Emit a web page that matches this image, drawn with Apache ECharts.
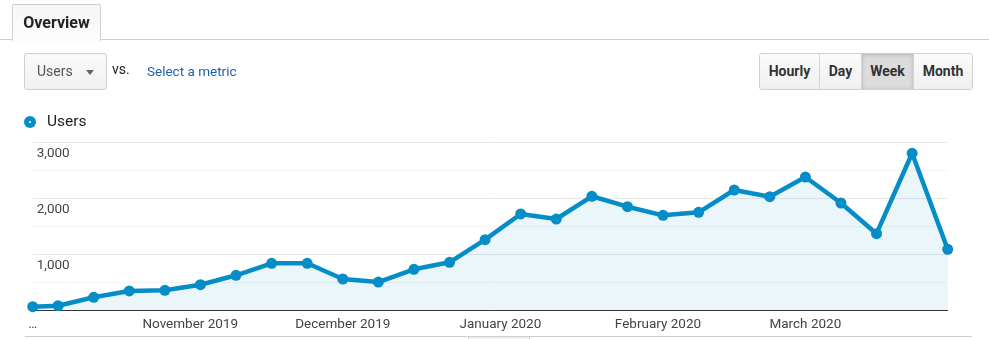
<!DOCTYPE html>
<html>
<head>
<meta charset="utf-8">
<script src="https://cdn.jsdelivr.net/npm/echarts@6/dist/echarts.min.js"></script>
<style>
  html, body { margin: 0; padding: 0; background: #fff; }
  body { width: 989px; height: 339px; position: relative; overflow: hidden; font-family: Roboto, Arial, sans-serif; }
  #chart { position: absolute; left: 0; top: 0; width: 989px; height: 339px; }
  .rule { position: absolute; left: 0; top: 39px; width: 989px; height: 1px; background: #cfcfcf; }
  .tab { position: absolute; left: 12px; top: 4px; width: 87px; height: 35px; border: 1px solid #cfcfcf; border-bottom: none;
         border-radius: 2px 2px 0 0; background: linear-gradient(#f6f6f6, #fcfcfc); z-index: 2;
         font-weight: bold; font-size: 16px; color: #222; line-height: 35px; text-align: center; padding-bottom: 1px; }
  .tab::after { content: ''; position: absolute; left: 0; right: 0; bottom: -1px; height: 1px; background: #fcfcfc; }
  .dropdown { position: absolute; left: 24px; top: 53px; width: 81px; height: 35px; border: 1px solid #cfcfcf; border-radius: 3px;
              background: linear-gradient(#fafafa, #f1f1f1); font-size: 14px; color: #555; line-height: 35px; }
  .dropdown span { position: absolute; left: 12px; }
  .dropdown i { position: absolute; left: 61px; top: 16px; width: 0; height: 0; border-left: 4px solid transparent;
                border-right: 4px solid transparent; border-top: 5px solid #666; }
  .vs { position: absolute; left: 112px; top: 61px; font-size: 14px; color: #222; }
  .metric { position: absolute; left: 147px; top: 63px; font-size: 13.5px; color: #1b62b0; }
  .btns { position: absolute; left: 759px; top: 53px; height: 35px; border: 1px solid #cfcfcf; border-radius: 3px; display: flex; overflow: hidden; }
  .btns div { height: 35px; line-height: 35px; text-align: center; font-weight: bold; font-size: 14px; color: #333;
              background: linear-gradient(#fbfbfb, #f0f0f0); border-left: 1px solid #d4d4d4; }
  .btns div:first-child { border-left: none; }
  .btns div.on { background: #dcdcdc; box-shadow: inset 0 1px 4px rgba(0,0,0,0.18); }
  .foot { position: absolute; left: 25px; top: 336px; width: 947px; height: 1px; background: #cfcfcf; }
  .foottab { position: absolute; left: 468px; top: 336px; width: 60px; height: 5px; border: 1px solid #cfcfcf; background: #f1f1f1; }
</style>
</head>
<body>
<div id="chart"></div>
<div class="rule"></div>
<div class="tab">Overview</div>
<div class="dropdown"><span>Users</span><i></i></div>
<div class="vs">vs.</div>
<div class="metric">Select a metric</div>
<div class="btns">
  <div style="width:59px">Hourly</div>
  <div style="width:41px">Day</div>
  <div class="on" style="width:51px">Week</div>
  <div style="width:58px">Month</div>
</div>
<div class="foot"></div>
<div class="foottab"></div>
<script>
// Weekly users, first point is the partial week starting Oct 1
const weekStarts = ['2019-10-01','2019-10-06','2019-10-13','2019-10-20','2019-10-27','2019-11-03','2019-11-10',
  '2019-11-17','2019-11-24','2019-12-01','2019-12-08','2019-12-15','2019-12-22','2019-12-29','2020-01-05',
  '2020-01-12','2020-01-19','2020-01-26','2020-02-02','2020-02-09','2020-02-16','2020-02-23','2020-03-01',
  '2020-03-08','2020-03-15','2020-03-22','2020-03-29'];
const users = [65, 82, 232, 345, 357, 457, 625, 839, 839, 559, 505, 732, 857, 1261, 1720, 1630, 2036, 1850,
  1696, 1750, 2148, 2029, 2380, 1916, 1368, 2804, 1089];

// x-axis labels
const tickDates = ['2019-10-01','2019-11-01','2019-12-01','2020-01-01','2020-02-01','2020-03-01'];
const tickLabels = ['…','November 2019','December 2019','January 2020','February 2020','March 2020'];

// day offsets from the first date drive the x scale
const DAY = 86400000;
const ts = s => Date.UTC(+s.slice(0, 4), +s.slice(5, 7) - 1, +s.slice(8, 10));
const t0 = ts(weekStarts[0]);
const dayOf = s => Math.round((ts(s) - t0) / DAY);
const tickDays = tickDates.map(dayOf);
const labelByDay = {};
tickDays.forEach((d, i) => { labelByDay[d] = tickLabels[i]; });

const blue = '#058dc7';
const font = 'Roboto, Arial, sans-serif';

const chart = echarts.init(document.getElementById('chart'), null, { renderer: 'canvas' });
chart.setOption({
  animation: false,
  backgroundColor: '#fff',
  legend: {
    left: 24, top: 114, padding: 0,
    icon: 'circle', itemWidth: 12, itemHeight: 12,
    textStyle: { fontFamily: font, fontSize: 15.5, color: '#222', lineHeight: 16, padding: [0, 0, 0, 6] },
    selectedMode: false
  },
  graphic: [{ type: 'circle', left: 29, top: 121, shape: { r: 1 }, style: { fill: '#fff' }, z: 100 }],
  grid: { left: 32.7, right: 41.3, top: 142.3, bottom: 28.7 },
  xAxis: {
    type: 'value',
    min: 0,
    max: dayOf(weekStarts[weekStarts.length - 1]),
    axisLine: { lineStyle: { color: '#333', width: 1 } },
    axisTick: { show: false },
    splitLine: { show: false },
    axisLabel: {
      customValues: tickDays,
      formatter: v => labelByDay[v] || '',
      fontFamily: font, fontSize: 13.5, color: '#444', lineHeight: 14, margin: 7
    }
  },
  yAxis: {
    type: 'value',
    min: 0, max: 3000, interval: 1000,
    axisLine: { show: false },
    axisTick: { show: false },
    splitLine: { lineStyle: { color: '#e8e8e8', width: 1 } },
    minorTick: { show: false, splitNumber: 2 },
    minorSplitLine: { show: true, lineStyle: { color: '#f3f3f3', width: 1 } },
    axisLabel: {
      inside: true, margin: 4,
      formatter: v => (v === 0 ? '' : v.toLocaleString('en-US')),
      fontFamily: font, fontSize: 13.5, color: '#444',
      verticalAlign: 'top', lineHeight: 14, padding: [4, 0, 0, 0]
    }
  },
  series: [{
    name: 'Users',
    type: 'line',
    data: weekStarts.map((d, i) => [dayOf(d), users[i]]),
    symbol: 'circle', symbolSize: 11, showSymbol: true,
    clip: false,
    color: blue,
    lineStyle: { color: blue, width: 4.5 },
    itemStyle: { color: blue },
    areaStyle: { color: 'rgba(5,141,199,0.11)' }
  }]
});
</script>
</body>
</html>
